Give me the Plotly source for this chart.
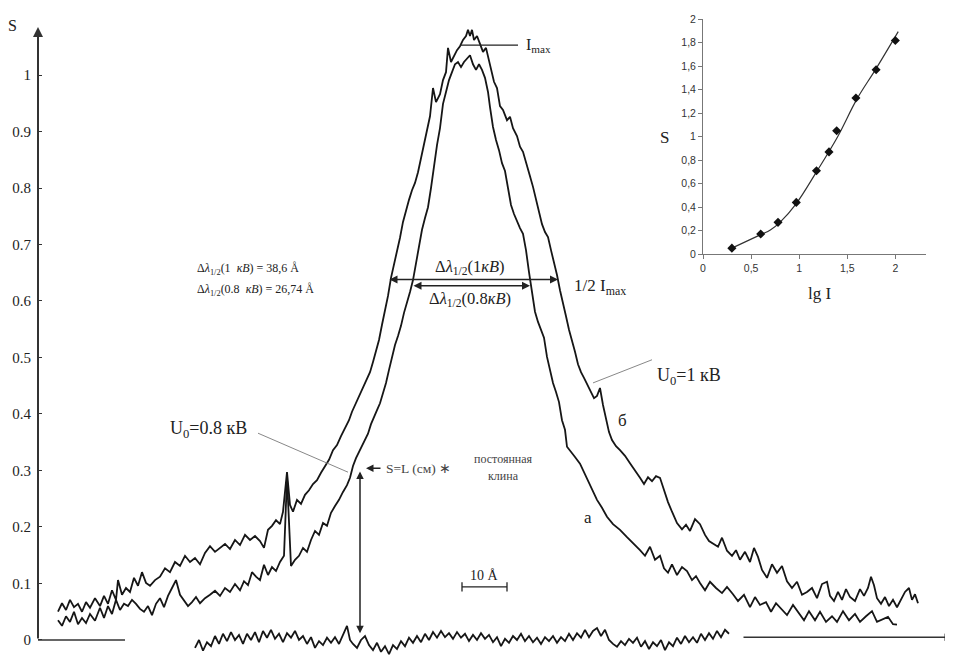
import plotly.graph_objects as go

# ---------------- main densitogram data ----------------
# x: position along the densitogram (arbitrary units, 45 units = 10 Å), y: blackening S
b_x = [20,24,28,32,36,40,44,48,52,57,62,66,70,74,78,80,84,88,92,96,100,104,108,112,117,122,127,132,137,142,147,152,157,162,167,172,177,182,187,192,197,202,207,212,217,222,226,230,234,238,242,245,249,252,255,259,263,267,271,275,279,283,287,291,295,299,303,307,311,314,317,320,323,326,329,332,335,338,341,344,347,350,353,356,359,362,365,368,371,374,377,380,383,386,389,392,395,398,402,405,408,410,413,416,419,422,425,428,430,432,434,436,439,442,445,448,451,454,456,459,462,465,469,472,475,479,482,485,489,492,495,498,501,504,507,510,513,516,519,522,525,528,531,534,537,540,543,546,549,552,556,559,562,565,568,571,574,578,582,587,592,597,602,606,610,614,618,622,626,630,634,639,644,648,652,657,662,667,671,675,680,684,689,694,698,702,707,712,716,720,724,729,734,739,744,749,754,759,764,769,774,779,784,789,792,796,800,804,808,812,817,822,826,830,833,836,839,843,847,851,855,859,863,867,871,874,877,880]
b_s = [0.050,0.065,0.053,0.071,0.058,0.064,0.050,0.067,0.057,0.074,0.060,0.078,0.064,0.088,0.071,0.106,0.080,0.092,0.085,0.110,0.096,0.120,0.101,0.096,0.106,0.112,0.127,0.120,0.138,0.131,0.149,0.138,0.145,0.134,0.154,0.166,0.156,0.163,0.170,0.161,0.177,0.168,0.186,0.177,0.184,0.175,0.163,0.195,0.202,0.212,0.205,0.227,0.297,0.239,0.227,0.248,0.241,0.257,0.265,0.276,0.283,0.296,0.308,0.319,0.336,0.345,0.361,0.375,0.389,0.404,0.416,0.428,0.439,0.450,0.464,0.474,0.492,0.510,0.531,0.558,0.581,0.609,0.641,0.664,0.690,0.712,0.740,0.761,0.779,0.796,0.809,0.828,0.853,0.878,0.903,0.927,0.977,0.952,0.966,0.991,1.005,1.048,1.023,1.034,1.044,1.051,1.062,1.069,1.080,1.069,1.080,1.062,1.069,1.055,1.041,1.048,1.027,1.002,0.988,0.977,0.945,0.938,0.920,0.926,0.906,0.892,0.873,0.864,0.837,0.821,0.802,0.779,0.758,0.736,0.722,0.713,0.690,0.669,0.646,0.619,0.593,0.573,0.549,0.531,0.510,0.488,0.474,0.464,0.453,0.442,0.428,0.432,0.446,0.416,0.389,0.368,0.354,0.343,0.336,0.326,0.313,0.301,0.287,0.276,0.288,0.281,0.290,0.287,0.265,0.244,0.227,0.207,0.196,0.204,0.193,0.214,0.205,0.186,0.175,0.170,0.165,0.181,0.158,0.149,0.159,0.142,0.156,0.138,0.163,0.147,0.124,0.110,0.134,0.119,0.131,0.104,0.092,0.103,0.080,0.085,0.092,0.074,0.099,0.103,0.078,0.069,0.085,0.071,0.090,0.076,0.069,0.090,0.078,0.092,0.112,0.097,0.074,0.064,0.076,0.060,0.071,0.058,0.073,0.085,0.092,0.071,0.081,0.065]

a_x = [20,24,28,32,36,40,44,48,52,57,62,66,70,74,78,82,86,90,94,98,102,106,110,114,118,122,126,130,134,138,142,146,150,154,158,162,167,172,177,182,187,192,197,202,206,210,214,218,222,226,230,234,238,242,246,249,253,257,261,265,269,273,277,281,285,289,293,297,301,305,309,312,315,318,321,324,327,330,333,336,339,342,345,348,351,354,357,360,363,366,369,372,375,378,381,384,387,390,393,396,399,402,405,408,411,414,417,420,423,426,429,432,435,438,441,444,447,450,452,455,458,461,464,467,470,473,476,479,482,485,488,491,494,497,500,503,506,509,512,515,518,521,524,527,529,532,537,542,546,550,554,559,564,569,575,582,589,595,602,607,612,617,622,626,630,634,639,644,649,654,658,662,667,672,678,684,689,695,700,706,712,717,722,728,733,738,744,749,755,761,766,771,777,782,788,794,799,805,811,817,822,828,834,839,845,850,855,859]
a_s = [0.035,0.025,0.042,0.032,0.050,0.028,0.039,0.030,0.046,0.034,0.057,0.039,0.060,0.046,0.071,0.053,0.064,0.060,0.071,0.064,0.055,0.050,0.060,0.044,0.064,0.074,0.058,0.078,0.092,0.106,0.080,0.071,0.060,0.067,0.076,0.065,0.074,0.080,0.087,0.078,0.092,0.085,0.099,0.088,0.104,0.097,0.120,0.112,0.106,0.133,0.115,0.129,0.122,0.138,0.149,0.287,0.131,0.142,0.149,0.163,0.156,0.177,0.193,0.186,0.207,0.202,0.225,0.237,0.248,0.262,0.274,0.287,0.308,0.322,0.333,0.345,0.354,0.365,0.382,0.393,0.407,0.419,0.435,0.455,0.478,0.503,0.522,0.538,0.556,0.579,0.596,0.616,0.637,0.667,0.697,0.726,0.747,0.766,0.800,0.841,0.876,0.906,0.949,0.970,0.991,1.005,1.019,1.023,1.014,1.023,1.030,1.035,1.019,1.009,1.019,1.009,0.995,0.970,0.943,0.908,0.885,0.867,0.844,0.830,0.800,0.770,0.754,0.740,0.729,0.719,0.690,0.651,0.611,0.581,0.563,0.549,0.535,0.501,0.478,0.455,0.439,0.421,0.389,0.372,0.342,0.336,0.324,0.312,0.297,0.283,0.265,0.248,0.234,0.218,0.205,0.195,0.182,0.172,0.159,0.149,0.165,0.142,0.149,0.127,0.119,0.134,0.115,0.129,0.122,0.106,0.113,0.101,0.088,0.103,0.092,0.083,0.094,0.081,0.069,0.080,0.058,0.076,0.062,0.067,0.050,0.065,0.053,0.044,0.062,0.048,0.035,0.051,0.035,0.050,0.032,0.042,0.032,0.051,0.035,0.046,0.032,0.042,0.051,0.032,0.037,0.041,0.028,0.027]

base_x = [157,161,165,169,173,177,181,185,189,193,197,201,205,209,213,217,221,225,229,233,237,241,245,249,253,257,261,265,269,273,277,281,285,289,293,297,301,305,309,312,315,319,323,327,331,335,339,343,347,351,355,359,363,367,371,375,379,383,387,391,395,399,403,407,411,415,419,423,427,431,435,439,443,447,451,455,459,463,467,471,475,479,483,487,491,495,499,503,507,511,515,519,523,527,531,535,539,543,547,551,555,559,563,567,571,575,579,583,587,591,595,599,603,607,611,615,619,623,627,631,635,639,643,647,651,655,659,663,667,671,675,679,683,687,691]
base_s = [-0.014,0.000,-0.019,-0.004,-0.011,0.007,-0.007,0.011,-0.002,0.014,0.000,0.009,-0.007,0.011,0.000,0.014,-0.004,0.016,0.004,0.018,0.002,0.011,-0.004,0.012,0.004,0.016,0.000,0.007,-0.007,0.005,-0.014,-0.002,-0.009,0.004,-0.005,0.005,-0.007,0.009,0.025,0.000,-0.007,-0.014,0.000,0.007,-0.009,-0.018,-0.005,-0.021,-0.011,-0.025,-0.009,-0.016,-0.002,-0.011,0.004,-0.005,0.007,-0.004,0.011,0.000,0.014,0.004,0.016,0.005,0.012,0.002,0.014,0.004,0.011,-0.002,0.009,0.000,0.012,0.002,0.009,-0.004,0.005,-0.011,0.002,-0.005,0.007,0.000,0.011,-0.002,0.007,-0.004,0.004,-0.007,0.005,-0.002,0.007,-0.005,0.005,-0.002,0.011,0.000,0.012,0.004,0.018,0.005,0.016,0.021,0.007,0.018,0.000,-0.007,-0.012,-0.002,-0.009,0.002,-0.005,0.004,-0.012,-0.002,-0.016,-0.004,-0.011,0.000,-0.018,-0.004,-0.011,0.004,-0.007,0.007,-0.004,0.005,-0.005,0.011,0.000,0.012,0.002,0.016,0.005,0.018,0.011]

s_ticks = [0, 0.1, 0.2, 0.3, 0.4, 0.5, 0.6, 0.7, 0.8, 0.9, 1]
s_tick_text = ["0", "0.1", "0.2", "0.3", "0.4", "0.5", "0.6", "0.7", "0.8", "0.9", "1"]

# ---------------- inset: calibration curve ----------------
lgI = [0.3, 0.6, 0.78, 0.97, 1.18, 1.31, 1.39, 1.59, 1.8, 2.0]
S_cal = [0.05, 0.17, 0.27, 0.44, 0.71, 0.87, 1.05, 1.33, 1.57, 1.82]
fit_x = [0.3, 0.6, 0.7, 0.8, 0.97, 1.18, 1.4, 1.6, 1.8, 2.03]
fit_y = [0.05, 0.165, 0.205, 0.27, 0.43, 0.70, 1.0, 1.32, 1.58, 1.895]
in_xticks = [0, 0.5, 1, 1.5, 2]
in_xtext = ["0", "0,5", "1", "1,5", "2"]
in_yticks = [0, 0.2, 0.4, 0.6, 0.8, 1, 1.2, 1.4, 1.6, 1.8, 2]
in_ytext = ["0", "0,2", "0,4", "0,6", "0,8", "1", "1,2", "1,4", "1,6", "1,8", "2"]

SERIF = "Liberation Serif"
SANS = "Liberation Sans"
INK = "#161616"

fig = go.Figure()
line_style = dict(color=INK, width=1.8)
fig.add_trace(go.Scatter(x=b_x, y=b_s, mode="lines", line=line_style, name="б (U0=1 кВ)"))
fig.add_trace(go.Scatter(x=a_x, y=a_s, mode="lines", line=line_style, name="а (U0=0.8 кВ)"))
fig.add_trace(go.Scatter(x=base_x, y=base_s, mode="lines", line=line_style, name="фон"))

fig.add_trace(go.Scatter(x=fit_x, y=fit_y, mode="lines", line=dict(color="#333", width=1.2, shape="spline"),
                         xaxis="x2", yaxis="y2"))
fig.add_trace(go.Scatter(x=lgI, y=S_cal, mode="markers", marker=dict(symbol="diamond", size=7, color="#111"),
                         xaxis="x2", yaxis="y2"))

annotations = []
shapes = []

def arrow(x0, y0, x1, y1, both=False, width=1.5, color="#222", head=2):
    annotations.append(dict(x=x1, y=y1, ax=x0, ay=y0, xref="x", yref="y", axref="x", ayref="y",
                            text="", showarrow=True, arrowhead=head, arrowsize=1, arrowwidth=width,
                            arrowcolor=color, startarrowhead=head, startarrowsize=1,
                            arrowside="end+start" if both else "end"))

def text(x, y, t, size=15, xanchor="center", color="#222", family=SERIF, ref="data"):
    xr, yr = ("x", "y") if ref == "data" else ("paper", "paper")
    annotations.append(dict(x=x, y=y, xref=xr, yref=yr, text=t, showarrow=False, xanchor=xanchor,
                            yanchor="middle", font=dict(family=family, size=size, color=color)))

# axes of the main chart
arrow(0, 0, 0, 1.085, width=2, color="#333")
shapes.append(dict(type="line", x0=0, x1=87, y0=0, y1=0, xref="x", yref="y", line=dict(color="#333", width=1.5)))
arrow(704, 0.005, 914, 0.005, width=1.5, color="#333")
text(-0.0284, 0.9738, "S", size=16, color="#222", ref="paper")

# I max
shapes.append(dict(type="line", x0=422, x1=480, y0=1.053, y1=1.053, xref="x", yref="y", line=dict(color="#222", width=1.3)))
text(486, 1.053, "I<sub>max</sub>", size=16, xanchor="left")

# half-widths
arrow(350, 0.638, 520, 0.638, both=True, width=1.6)
arrow(374, 0.627, 492, 0.627, both=True, width=1.6)
text(432, 0.661, "Δ<i>λ</i><sub>1/2</sub>(1<i>кB</i>)", size=16.5)
text(432, 0.604, "Δ<i>λ</i><sub>1/2</sub>(0.8<i>кB</i>)", size=16.5)
text(534, 0.625, "1/2 I<sub>max</sub>", size=17, xanchor="left")
text(157, 0.657, "Δ<i>λ</i><sub>1/2</sub>(1  <i>кB</i>) = 38,6 Å", size=12, xanchor="left")
text(157, 0.619, "Δ<i>λ</i><sub>1/2</sub>(0.8  <i>кB</i>) = 26,74 Å", size=12, xanchor="left")

# curve labels with leaders
text(170, 0.372, "U<sub>0</sub>=0.8 кВ", size=18)
shapes.append(dict(type="line", x0=220, x1=310, y0=0.366, y1=0.297, xref="x", yref="y", line=dict(color="#888", width=1)))
text(617, 0.466, "U<sub>0</sub>=1 кВ", size=18, xanchor="left")
shapes.append(dict(type="line", x0=555, x1=614, y0=0.455, y1=0.496, xref="x", yref="y", line=dict(color="#888", width=1)))
text(584, 0.388, "б", size=17)
text(550, 0.216, "а", size=17)

# S = L arrow and text
arrow(344, 0.304, 328, 0.304, width=1.5)
text(346, 0.304, "S=L (см) ∗", size=13.5, xanchor="left", color="#444")
text(465, 0.320, "постоянная", size=12, color="#444")
text(465, 0.291, "клина", size=12, color="#444")
arrow(322, 0.301, 322, 0.012, both=True, width=1.5)

# scale bar
shapes.append(dict(type="line", x0=424, x1=469, y0=0.094, y1=0.094, xref="x", yref="y", line=dict(color="#222", width=1.3)))
shapes.append(dict(type="line", x0=424, x1=424, y0=0.086, y1=0.102, xref="x", yref="y", line=dict(color="#222", width=1.3)))
shapes.append(dict(type="line", x0=469, x1=469, y0=0.086, y1=0.102, xref="x", yref="y", line=dict(color="#222", width=1.3)))
text(446, 0.114, "10 Å", size=14)

# inset labels
text(0.6852, 0.800, "S", size=17, ref="paper")
text(0.8536, 0.5615, "lg I", size=17, ref="paper")

# The page body adds an 8 px offset, so the figure is 8 px smaller and its layout shifted accordingly.
fig.update_layout(
    width=945, height=650,
    margin=dict(l=30, r=0, t=0, b=0, autoexpand=False),
    paper_bgcolor="white", plot_bgcolor="rgba(0,0,0,0)",
    showlegend=False,
    xaxis=dict(range=[0, 915], visible=False, domain=[0, 1], automargin=False),
    yaxis=dict(range=[-0.0319, 1.1186], domain=[0, 1], showgrid=False, zeroline=False, showline=False,
               automargin=False,
               tickvals=s_ticks, ticktext=s_tick_text, ticks="inside", ticklen=4, tickwidth=1.2,
               tickcolor="#333", ticklabelstandoff=6,
               tickfont=dict(family=SERIF, size=15, color="#222")),
    xaxis2=dict(domain=[0.7268, 0.9705], range=[0, 2.319], anchor="y2", showgrid=False, zeroline=False,
                automargin=False,
                showline=True, linecolor="#777", linewidth=1, tickvals=in_xticks, ticktext=in_xtext,
                ticks="outside", ticklen=4, tickcolor="#777",
                tickfont=dict(family=SANS, size=10.5, color="#333")),
    yaxis2=dict(domain=[0.6215, 0.9826], range=[0, 2], anchor="x2", showgrid=False, zeroline=False,
                automargin=False,
                showline=True, linecolor="#777", linewidth=1, tickvals=in_yticks, ticktext=in_ytext,
                ticks="outside", ticklen=4, tickcolor="#777",
                tickfont=dict(family=SANS, size=10.5, color="#333")),
    annotations=annotations,
    shapes=shapes,
)

fig.write_html("out.html")
